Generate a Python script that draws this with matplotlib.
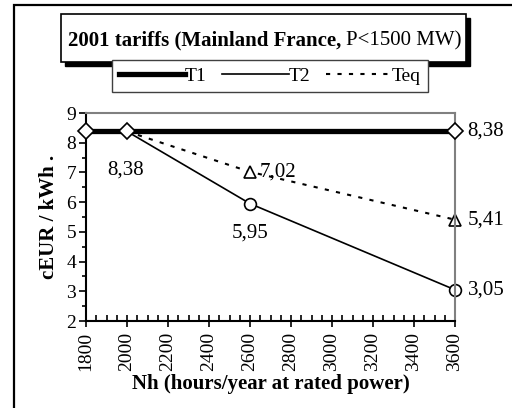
import matplotlib.pyplot as plt
from matplotlib.patches import Rectangle
from matplotlib.ticker import MultipleLocator

plt.rcParams['font.family'] = ['Liberation Serif', 'DejaVu Serif']

# data
x_t1 = [1800, 2000, 3600]
y_t1 = [8.38, 8.38, 8.38]
x_t2 = [2000, 2600, 3600]
y_t2 = [8.38, 5.95, 3.05]
x_teq = [2000, 2600, 3600]
y_teq = [8.38, 7.02, 5.41]
labels = ['8,38', '5,95', '3,05', '7,02', '5,41', '8,38']

W, H = 512, 408
fig = plt.figure(figsize=(W / 100, H / 100), dpi=100)

def fx(p):
    return p / W

def fy(p):
    return 1 - p / H

# outer frame
fig.patches.append(Rectangle((fx(14), -0.2), 1.2, fy(5) + 0.2, transform=fig.transFigure,
                             fill=False, lw=1.6, ec='black', zorder=0))

ax = fig.add_axes([fx(86), fy(321), fx(455 - 86), (321 - 113) / H])

ax.plot(x_t1, y_t1, color='black', lw=3.8, marker='D', ms=8, mfc='white', mec='black',
        mew=1.2, label='T1', zorder=3, clip_on=False)
ax.plot(x_teq, y_teq, color='black', lw=1.5, ls=(0, (2, 3.5)), marker='^', ms=8.5,
        mfc='white', mec='black', mew=1.2, markevery=[1, 2], label='Teq', zorder=2,
        clip_on=False)
ax.plot(x_t2, y_t2, color='black', lw=1.2, marker='o', ms=8.5, mfc='white', mec='black',
        mew=1.2, markevery=[1, 2], label='T2', zorder=2, clip_on=False)

ax.set_xlim(1800, 3600)
ax.set_ylim(2, 9)
ax.xaxis.set_major_locator(MultipleLocator(200))
ax.xaxis.set_minor_locator(MultipleLocator(50))
ax.yaxis.set_major_locator(MultipleLocator(1))
ax.yaxis.set_minor_locator(MultipleLocator(0.5))
ax.tick_params(axis='x', which='major', direction='inout', length=8, width=1.2,
               labelsize=14, labelrotation=90, pad=4)
ax.tick_params(axis='x', which='minor', direction='in', length=4, width=1.2)
ax.tick_params(axis='y', which='major', direction='out', length=5, width=1.2,
               labelsize=14, pad=2)
ax.tick_params(axis='y', which='minor', direction='out', length=3, width=1.2)
for s in ['left', 'bottom']:
    ax.spines[s].set_linewidth(1.5)
for s in ['top', 'right']:
    ax.spines[s].set_color('#808080')
    ax.spines[s].set_linewidth(1.5)

ax.set_ylabel('cEUR / kWh .', fontsize=15, fontweight='bold', labelpad=5)
ax.set_xlabel('Nh (hours/year at rated power)', fontsize=15, fontweight='bold', labelpad=2)

# value labels
fs = 15
ax.annotate(labels[0], (x_t2[0], y_t2[0]), xytext=(-1, -28), textcoords='offset points',
            ha='center', va='center', fontsize=fs)
ax.annotate(labels[1], (x_t2[1], y_t2[1]), xytext=(0, -21), textcoords='offset points',
            ha='center', va='center', fontsize=fs)
ax.annotate(labels[2], (x_t2[2], y_t2[2]), xytext=(9, 0), textcoords='offset points',
            ha='left', va='center', fontsize=fs)
ax.annotate(labels[3], (x_teq[1], y_teq[1]), xytext=(7, 0), textcoords='offset points',
            ha='left', va='center', fontsize=fs)
ax.annotate(labels[4], (x_teq[2], y_teq[2]), xytext=(9, 0), textcoords='offset points',
            ha='left', va='center', fontsize=fs)
ax.annotate(labels[5], (x_t1[2], y_t1[2]), xytext=(9, 0), textcoords='offset points',
            ha='left', va='center', fontsize=fs)

# title box with shadow
fig.patches.append(Rectangle((fx(65), fy(66)), fx(466 - 61), (62 - 14) / H,
                             transform=fig.transFigure, fc='black', ec='black', zorder=1))
fig.patches.append(Rectangle((fx(61), fy(62)), fx(466 - 61), (62 - 14) / H,
                             transform=fig.transFigure, fc='white', ec='black', lw=1.2, zorder=2))
t1 = fig.text(fx(68), fy(38), '2001 tariffs (Mainland France, ', fontsize=15,
              fontweight='bold', ha='left', va='center_baseline', zorder=3)
fig.canvas.draw()
bb = t1.get_window_extent()
fig.text(bb.x1 / W, fy(38), 'P<1500 MW)', fontsize=15, ha='left',
         va='center_baseline', zorder=3)

# legend
handles, labs = ax.get_legend_handles_labels()
order = [0, 2, 1]
leg = fig.legend([handles[i] for i in order], [labs[i] for i in order],
                 loc='center', bbox_to_anchor=(fx(270), fy(76)), ncol=3, fontsize=14,
                 frameon=True, fancybox=False, edgecolor='#404040', handlelength=3.4,
                 handletextpad=0.0, columnspacing=0.8, borderpad=0.35, framealpha=1)
leg.get_frame().set_linewidth(1.0)
for h in leg.legend_handles:
    h.set_marker('')

fig.savefig('out.png', dpi=100)
